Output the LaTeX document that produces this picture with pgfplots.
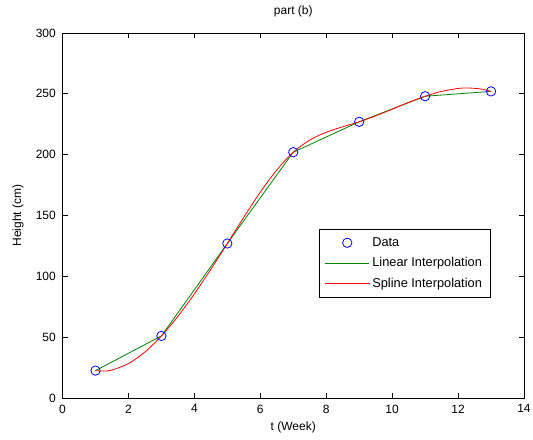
\documentclass[border=0pt]{standalone}
\usepackage{fontspec}
\setmainfont{Liberation Sans}
\usepackage{pgfplots}
\pgfplotsset{compat=1.18}
\usetikzlibrary{calc}
\definecolor{mgreen}{rgb}{0,0.5,0}
\definecolor{mblue}{rgb}{0,0,1}
\definecolor{mred}{rgb}{1,0,0}

\begin{document}
\begin{tikzpicture}
\begin{axis}[
  name=ax,
  scale only axis, width=346.1pt, height=273.75pt,
  xmin=0, xmax=14, ymin=0, ymax=300,
  xtick={0,2,...,14}, ytick={0,50,...,300},
  tick align=inside, major tick length=4pt,
  axis line style={line width=0.6pt},
  every tick/.style={black,line width=0.5pt},
  font=\fontsize{9}{11}\selectfont,
  /pgf/number format/assume math mode=true,
  xticklabel style={yshift=-1.5pt},
  yticklabel style={xshift=-1.5pt},
  title={part (b)},
  title style={at={(axis description cs:0.5,1.036)},anchor=center},
  xlabel={t (Week)},
  x label style={at={(axis description cs:0.5,-0.08)},anchor=center},
  ylabel={Height (cm)},
  y label style={at={(axis description cs:-0.0965,0.5)},anchor=center},
  legend cell align=left,
  legend style={at={(0.556,0.463)},anchor=north west,draw=black,line width=0.6pt,
    font=\fontsize{9.6}{11}\selectfont,row sep=3pt,inner sep=4pt},
  legend image code/.code={%
    \draw[mark repeat=2,mark phase=2,#1] plot coordinates {(0cm,0cm) (0.58cm,0cm) (1.16cm,0cm)};},
]
\addplot[only marks,mark=o,mark size=3.5pt,color=mblue,mark options={line width=0.6pt}]
  coordinates {(1,22.5)(3,51)(5,127)(7,202)(9,227)(11,248)(13,252)};
\addlegendentry{Data}
\addplot[color=mgreen,line width=0.6pt]
  coordinates {(1,22.5)(3,51)(5,127)(7,202)(9,227)(11,248)(13,252)};
\addlegendentry{Linear Interpolation}
\addplot[color=mred,line width=0.6pt,smooth]
  coordinates {
  (1,22.5)(1.25,22.1)(1.5,23.0)(2,28.3)(2.5,37.8)(3,51)
  (3.5,67.1)(4,85.6)(4.5,105.8)(5,127)
  (5.5,148.6)(6,169.2)(6.5,187.4)(7,202)
  (7.5,212.0)(8,218.4)(8.5,222.9)(9,227)
  (9.5,231.9)(10,237.4)(10.5,243.0)(11,248)
  (11.5,252.0)(12,254.4)(12.25,254.8)(12.5,254.5)(12.75,253.7)(13,252)};
\addlegendentry{Spline Interpolation}
\end{axis}
\pgfresetboundingbox
\path[use as bounding box] ($(ax.south west)+(-46.9pt,-31.5pt)$) rectangle ($(ax.north east)+(6.75pt,24.75pt)$);
\end{tikzpicture}
\end{document}
